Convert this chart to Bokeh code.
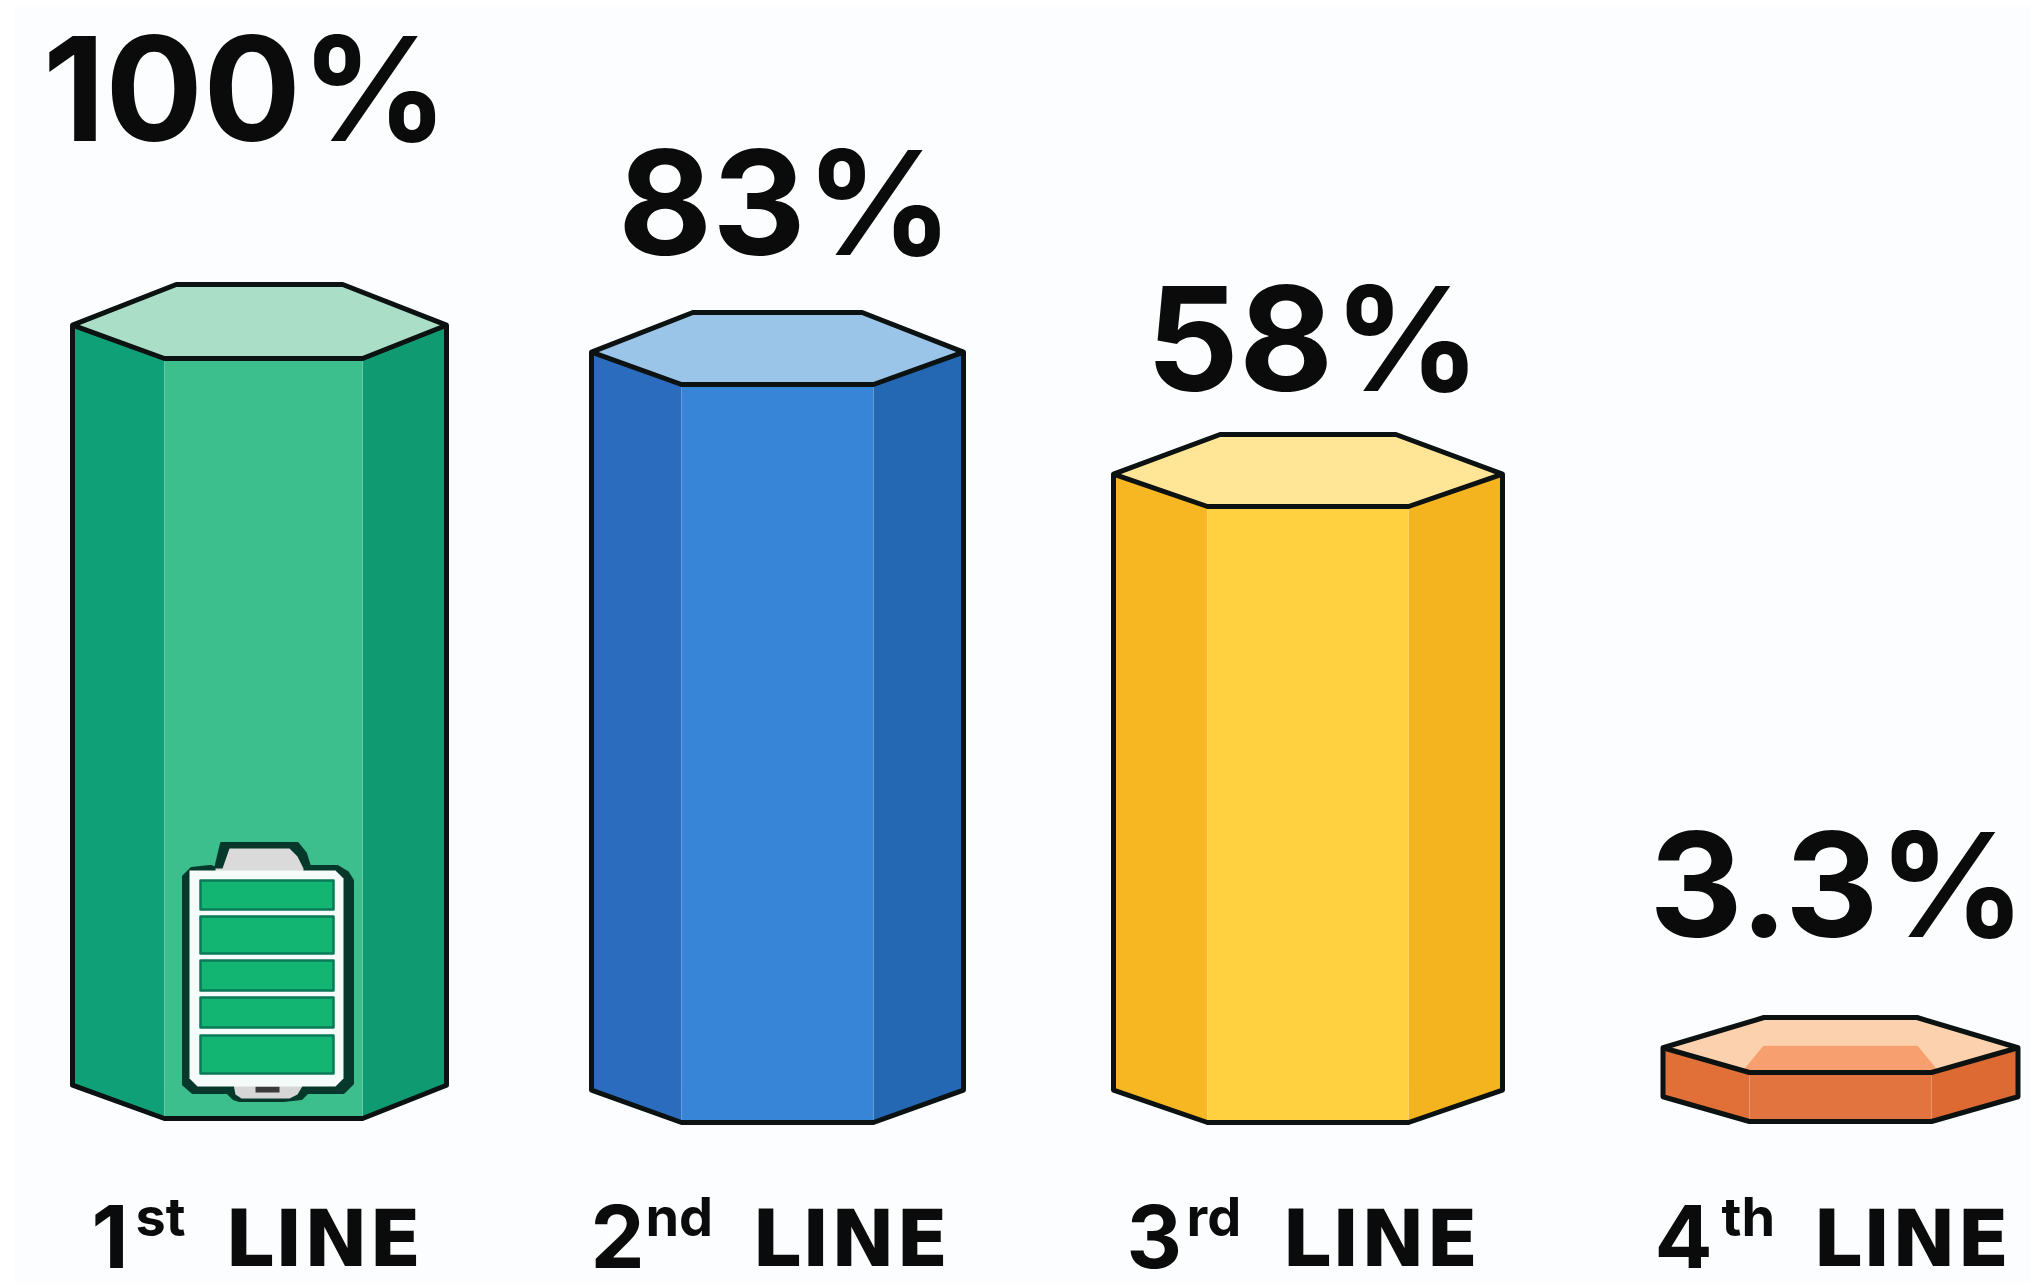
from bokeh.plotting import figure
from bokeh.models import Range1d
from bokeh.core.properties import value
from bokeh.embed import file_html
from bokeh.resources import INLINE

# ---- data ----
categories = ["1st LINE", "2nd LINE", "3rd LINE", "4th LINE"]
ordinal_digits = ["1", "2", "3", "4"]
ordinal_suffix = ["st", "nd", "rd", "th"]
line_word = ["LINE", "LINE", "LINE", "LINE"]
value_labels = ["100%", "83%", "58%", "3.3%"]
# the printed values are not proportional to the drawn prisms: drawn heights are read separately
drawn_heights = [760, 738, 616, 49]

# ---- layout (pixels of the picture) ----
centers = [259, 777, 1307.5, 1840]
widths = [374, 372, 389, 355]
inner_fracs = [0.53, 0.516, 0.517, 0.513]
inner_shift = [4, 0, 0, 0]
back_fracs = [0.445, 0.455, 0.452, 0.431]
depths = [74, 72, 72, 55]
baselines = [1118, 1122, 1122, 1121]

side_l = ["#10A078", "#2C6CBE", "#F7B722", "#E07038"]
side_r = ["#0F9A72", "#2467B2", "#F4B420", "#DE6A33"]
fronts = ["#3DBF8D", "#3785D6", "#FFD140", "#E2753F"]
tops = ["#ABDEC6", "#9AC5E9", "#FFE596", "#FCD2AE"]
inner_top = [None, None, None, "#F79F6E"]

INK = "#0B1211"
TXT = "#0B0B0B"
BG = "#FCFDFE"
FONT = "Inter"
WORD_FONT = "DejaVu Sans"


def ty(y, size):
    # vertical centre of a line of capitals that stands on baseline y
    return y - 0.36 * size


p = figure(width=2042, height=1288, output_backend="svg", toolbar_location=None,
           x_range=Range1d(0, 2042), y_range=Range1d(1288, 0),
           min_border=0, background_fill_color="#FFFFFF", border_fill_color="#FFFFFF")
p.axis.visible = False
p.grid.visible = False
p.outline_line_color = None

p.quad(left=[14], right=[2030], top=[6], bottom=[1282], fill_color=BG, line_color=None)


def poly(xs, ys, fill, line=None, lw=0):
    p.patch(xs, ys, fill_color=fill, line_color=line, line_width=lw, line_join="round")


for i in range(len(categories)):
    c, w, d = centers[i], widths[i], depths[i]
    L, R = c - w / 2, c + w / 2
    iL = c + inner_shift[i] - w * inner_fracs[i] / 2
    iR = c + inner_shift[i] + w * inner_fracs[i] / 2
    bL, bR = c - w * back_fracs[i] / 2, c + w * back_fracs[i] / 2
    fb = baselines[i]
    ft = fb - drawn_heights[i]
    top = ft - d
    cy = ft - 0.45 * d
    sb = fb - 0.45 * d

    poly([L, iL, iL, L], [cy, ft, fb, sb], side_l[i])
    poly([iR, R, R, iR], [ft, cy, sb, fb], side_r[i])
    poly([iL, iR, iR, iL], [ft, ft, fb, fb], fronts[i])
    poly([L, bL, bR, R, iR, iL], [cy, top, top, cy, ft, ft], tops[i])
    if inner_top[i]:
        poly([iL - 8, iL + 14, iR - 14, iR + 8], [ft, cy - 2, cy - 2, ft], inner_top[i])
    # outline
    poly([L, bL, bR, R, R, iR, iL, L], [cy, top, top, cy, sb, fb, fb, sb], None, INK, 5)
    p.line([L, iL, iR, R], [cy, ft, ft, cy], line_color=INK, line_width=5, line_join="round")

# battery icon on the first prism
bx, by = centers[0], baselines[0]


def bat(xs, ys, fill, line=None, lw=0):
    poly([bx + x for x in xs], [by + y for y in ys], fill, line, lw)


HALO = "#06382B"
bat([-44, -38, 38, 46, 50, 78, 88, 93, 93, 84, 48, 42, 24, -20, -26, -32, -67, -76, -76, -68, -50, -48],
    [-250, -275, -275, -265, -252, -252, -246, -238, -35, -26, -26, -20, -18, -18, -20, -26, -26, -34, -242, -250, -252, -252],
    HALO, HALO, 3)
bat([-37, -30, 30, 38, 44, 44, -44, -44], [-250, -270, -270, -262, -250, -246, -246, -250], "#DADADA")
bat([-26, 44, 38, 30, -18, -24], [-34, -34, -24, -20, -20, -24], "#D6D6D6")
bat([-4, 20, 20, -4], [-32, -32, -26, -26], "#3A3A3A")
bat([-70, 76, 84, 84, 76, -62, -70], [-248, -248, -240, -40, -32, -32, -40], "#F4FBF8")
for t, b in [(-238, -209), (-202, -165), (-158, -128), (-121, -91), (-83, -45)]:
    bat([-59, 74, 74, -59], [t, t, b, b], "#12B572", "#0B7A58", 2.5)

# value labels
PCT = 145
p.text(x=[245, 785, 1313, 1837], y=[ty(v, PCT) for v in [140, 254, 390, 936]], text=value_labels,
       text_font=value(FONT), text_font_style="bold", text_font_size=value(f"{PCT}px"),
       text_align="center", text_baseline="middle", text_color=TXT)

# category labels built from their three pieces
DIG, SUF, WORD = 86, 54, 78
LABEL_BASE = 1267
p.text(x=[91, 590, 1126, 1654], y=[ty(LABEL_BASE, DIG)] * 4, text=ordinal_digits,
       text_font=value(FONT), text_font_style="bold", text_font_size=value(f"{DIG}px"),
       text_align="left", text_baseline="middle", text_color=TXT)
p.text(x=[135, 645, 1186, 1721], y=[ty(1235, SUF)] * 4, text=ordinal_suffix,
       text_font=value(FONT), text_font_style="bold", text_font_size=value(f"{SUF}px"),
       text_align="left", text_baseline="middle", text_color=TXT)
p.text(x=[224, 751, 1281, 1812], y=[ty(LABEL_BASE, WORD)] * 4, text=line_word,
       text_font=value(WORD_FONT), text_font_style="bold", text_font_size=value(f"{WORD}px"),
       text_align="left", text_baseline="middle", text_color=TXT)

open("out.html", "w").write(file_html(p, INLINE))
